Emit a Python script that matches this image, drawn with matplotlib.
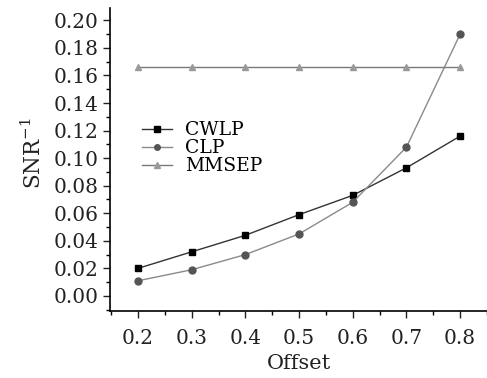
import matplotlib
matplotlib.use("Agg")
import matplotlib.pyplot as plt
from matplotlib.ticker import MultipleLocator

offset = [0.2, 0.3, 0.4, 0.5, 0.6, 0.7, 0.8]
cwlp = [0.020, 0.032, 0.044, 0.059, 0.073, 0.093, 0.116]
clp = [0.011, 0.019, 0.030, 0.045, 0.068, 0.108, 0.190]
mmsep = [0.166, 0.166, 0.166, 0.166, 0.166, 0.166, 0.166]
xticklabels = ['0.2', '0.3', '0.4', '0.5', '0.6', '0.7', '0.8']
yticks = [0.0, 0.02, 0.04, 0.06, 0.08, 0.10, 0.12, 0.14, 0.16, 0.18, 0.20]
yticklabels = ['0.00', '0.02', '0.04', '0.06', '0.08', '0.10', '0.12', '0.14', '0.16', '0.18', '0.20']

plt.rcParams['font.family'] = ['DejaVu Serif']
plt.rcParams['mathtext.fontset'] = 'dejavuserif'

fig = plt.figure(figsize=(4.87, 3.78), dpi=100)
ax = fig.add_axes([0.226, 0.177, 0.774, 0.802])

ax.plot(offset, cwlp, color='#333333', lw=1.0, marker='s', ms=5, mfc='black', mec='black', label='CWLP')
ax.plot(offset, clp, color='#8a8a8a', lw=1.0, marker='o', ms=5, mfc='#555555', mec='#555555', label='CLP')
ax.plot(offset, mmsep, color='#7a7a7a', lw=1.0, marker='^', ms=5, mfc='#999999', mec='#999999', label='MMSEP')

ax.set_xlim(0.148, 0.85)
ax.set_ylim(-0.011, 0.209)
ax.xaxis.set_minor_locator(MultipleLocator(0.05))
ax.yaxis.set_minor_locator(MultipleLocator(0.01))
ax.set_yticks(yticks)
ax.set_yticklabels(yticklabels)
ax.set_xticks(offset)
ax.set_xticklabels(xticklabels)

for s in ['top', 'right']:
    ax.spines[s].set_visible(False)
for s in ['left', 'bottom']:
    ax.spines[s].set_linewidth(1.2)
ax.tick_params(which='major', direction='out', length=5, width=1.0, labelsize=14.5, colors='#222222')
ax.tick_params(axis='x', which='major', pad=8)
ax.tick_params(which='minor', direction='out', length=3, width=1.0)

ax.set_xlabel('Offset', fontsize=15, labelpad=4, color='#222222')
ax.set_ylabel(r'SNR$^{-1}$', fontsize=15.5, color='#222222')
ax.yaxis.set_label_coords(-0.17, 0.52)

ax.legend(loc='upper left', bbox_to_anchor=(0.05, 0.67), frameon=False, fontsize=13.5,
          handlelength=1.6, handletextpad=0.7, labelspacing=0.0, borderpad=0.2, markerscale=0.8)

fig.savefig('out.png', dpi=100)
